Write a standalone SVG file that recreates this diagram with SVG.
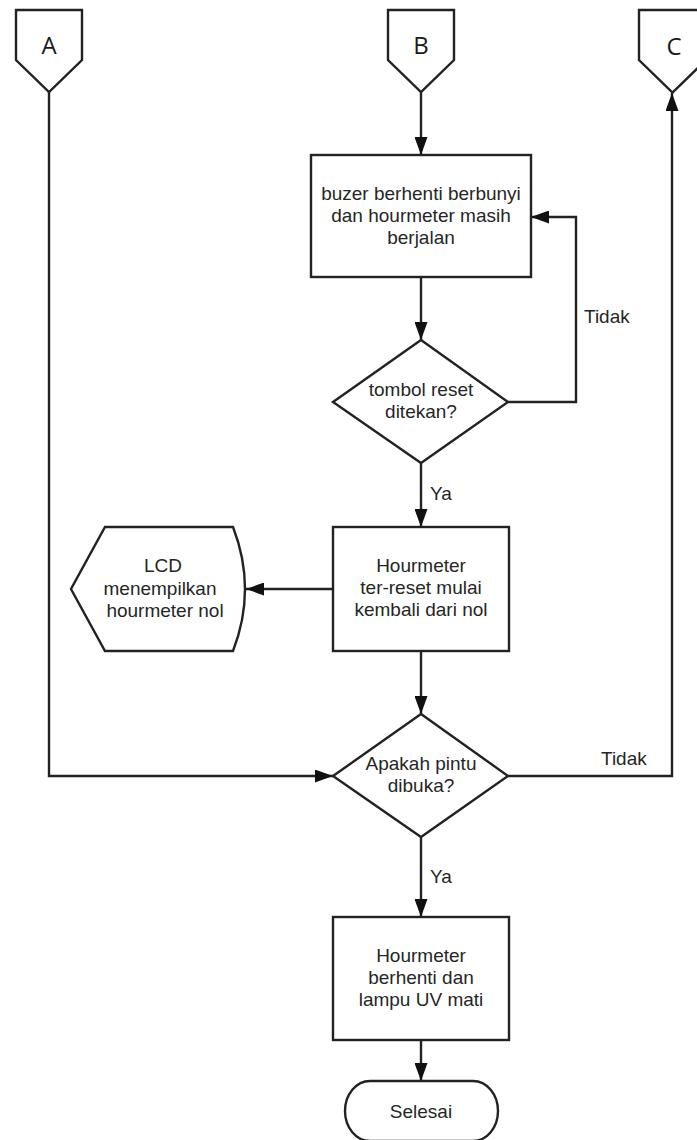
<svg xmlns="http://www.w3.org/2000/svg" width="697" height="1140" viewBox="0 0 697 1140">
<style>
.shape{fill:#fff;stroke:#222;stroke-width:2.4}
.conn{fill:none;stroke:#222;stroke-width:2.4}
.t{font-family:"Liberation Sans",Arial,sans-serif;font-size:19px;fill:#262626;text-anchor:middle}
.lbl{font-family:"Liberation Sans",Arial,sans-serif;font-size:19px;fill:#262626}
.k{font-family:"Open Sans","Liberation Sans",sans-serif;font-size:24px;fill:#1a1a1a;text-anchor:middle}
</style>
<defs>
<marker id="ah" markerUnits="userSpaceOnUse" markerWidth="18" markerHeight="13" refX="18" refY="6.5" orient="auto">
<path d="M0,0 L18,6.5 L0,13 z" fill="#111"/>
</marker>
</defs>
<rect width="697" height="1140" fill="#fff"/>
<g id="connectors">
<path class="conn" d="M49,92 V776 H333" marker-end="url(#ah)"/>
<path class="conn" d="M421,92 V155" marker-end="url(#ah)"/>
<path class="conn" d="M421,277 V340" marker-end="url(#ah)"/>
<path class="conn" d="M508,402 H576 V217 H531" marker-end="url(#ah)"/>
<path class="conn" d="M421,463 V527" marker-end="url(#ah)"/>
<path class="conn" d="M333,589 H246" marker-end="url(#ah)"/>
<path class="conn" d="M421,651 V714" marker-end="url(#ah)"/>
<path class="conn" d="M508,776 H672 V93" marker-end="url(#ah)"/>
<path class="conn" d="M421,837 V917" marker-end="url(#ah)"/>
<path class="conn" d="M421,1040 V1081" marker-end="url(#ah)"/>
<text class="lbl" x="584" y="323">Tidak</text>
<text class="lbl" x="430" y="500">Ya</text>
<text class="lbl" x="601" y="765">Tidak</text>
<text class="lbl" x="430" y="883">Ya</text>
</g>
<g id="connA">
<path class="shape" d="M16,10 H82 V60 L49,92 L16,60 z"/>
<text class="k" x="49" y="54">A</text>
</g>
<g id="connB">
<path class="shape" d="M388,10 H454 V60 L421,92 L388,60 z"/>
<text class="k" x="421" y="54">B</text>
</g>
<g id="connC">
<path class="shape" d="M639,10 H706 V60 L672.5,92.5 L639,60 z"/>
<text class="k" x="674" y="55">C</text>
</g>
<g id="proc1">
<rect class="shape" x="311" y="155" width="220" height="122"/>
<text class="t" x="421" y="200">buzer berhenti berbunyi</text>
<text class="t" x="421" y="222">dan hourmeter masih</text>
<text class="t" x="421" y="244">berjalan</text>
</g>
<g id="dec1">
<path class="shape" d="M421,340 L508,402 L421,463 L333,402 z"/>
<text class="t" x="421" y="396">tombol reset</text>
<text class="t" x="421" y="418">ditekan?</text>
</g>
<g id="proc2">
<rect class="shape" x="333" y="527" width="176" height="124"/>
<text class="t" x="421" y="572">Hourmeter</text>
<text class="t" x="421" y="594">ter-reset mulai</text>
<text class="t" x="421" y="616">kembali dari nol</text>
</g>
<g id="display">
<path class="shape" d="M105,527 H233 Q257,589 233,651 H105 L71,589 z"/>
<text class="t" x="163" y="572">LCD</text>
<text class="t" x="160" y="595">menempilkan</text>
<text class="t" x="165" y="617">hourmeter nol</text>
</g>
<g id="dec2">
<path class="shape" d="M421,714 L508,776 L421,837 L333,776 z"/>
<text class="t" x="421" y="770">Apakah pintu</text>
<text class="t" x="421" y="792">dibuka?</text>
</g>
<g id="proc3">
<rect class="shape" x="333" y="917" width="176" height="123"/>
<text class="t" x="421" y="962">Hourmeter</text>
<text class="t" x="421" y="984">berhenti dan</text>
<text class="t" x="421" y="1006">lampu UV mati</text>
</g>
<g id="end">
<path class="shape" d="M370,1081 H473 A25,30 0 0 1 473,1141 H370 A25,30 0 0 1 370,1081 z"/>
<text class="t" x="421" y="1118">Selesai</text>
</g>
</svg>
